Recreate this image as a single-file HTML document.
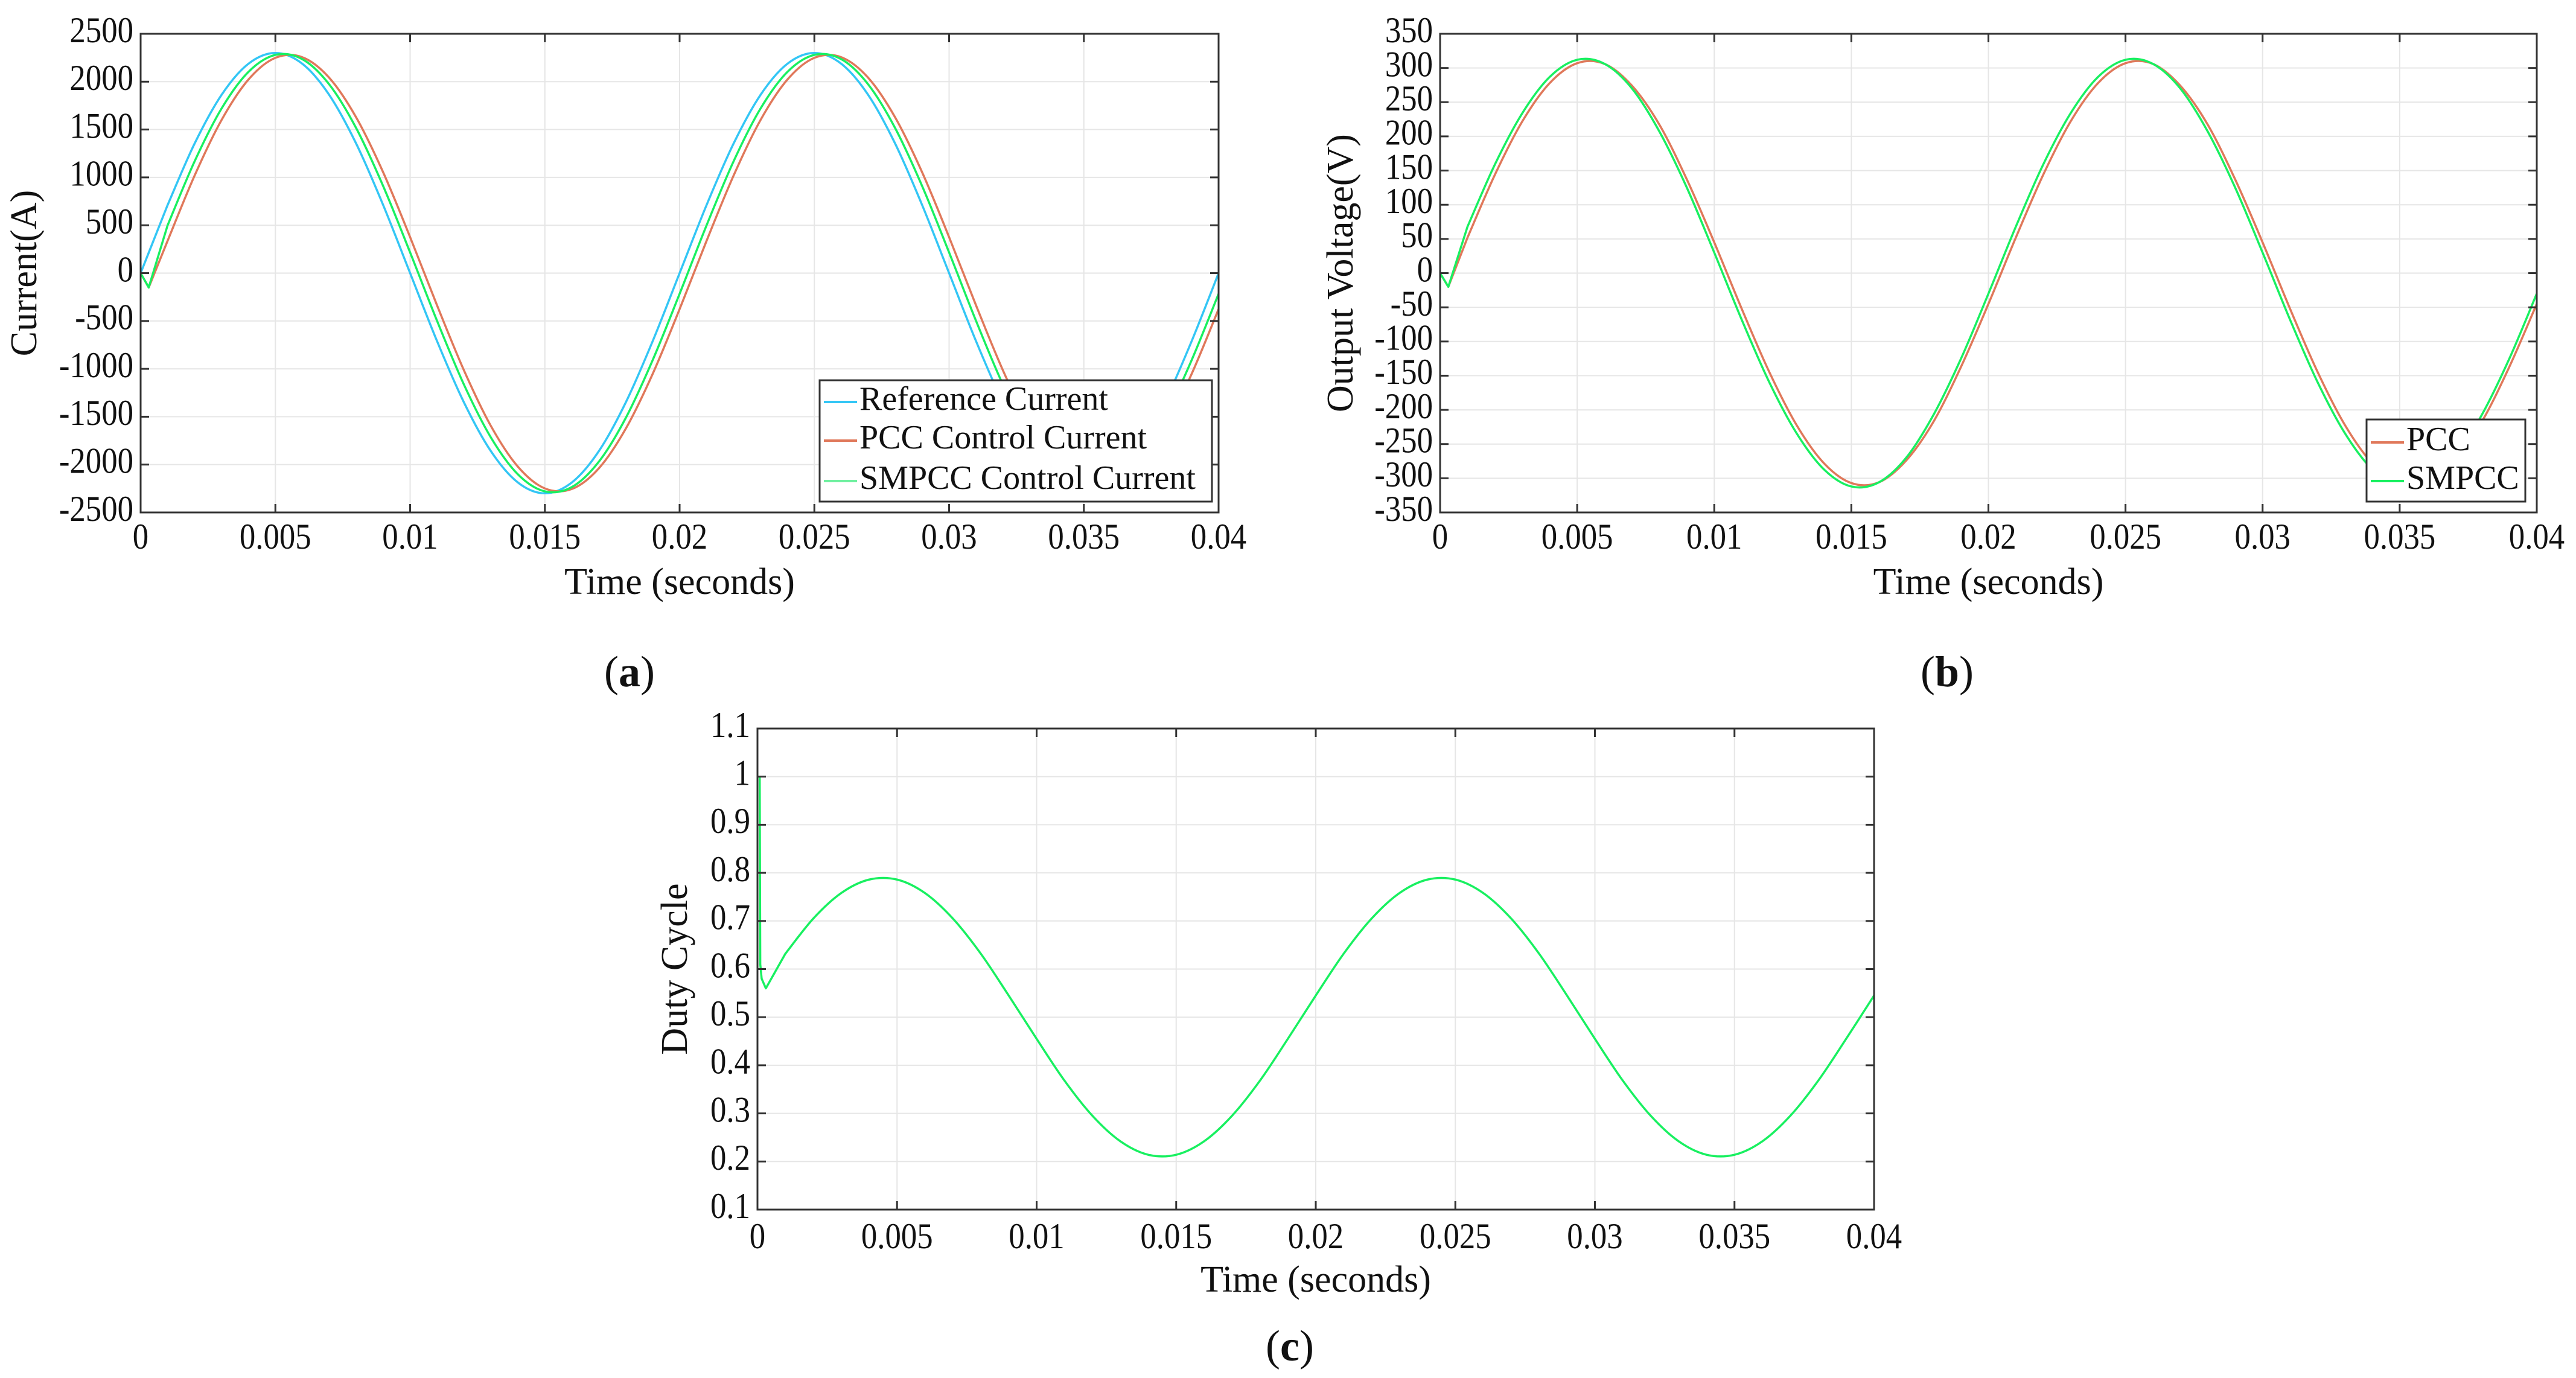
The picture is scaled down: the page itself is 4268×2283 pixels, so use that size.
<!DOCTYPE html>
<html><head><meta charset="utf-8"><style>
html,body{margin:0;padding:0;background:#fff;}
svg{display:block;}
text{font-family:"Liberation Serif",serif;fill:#111;}
</style></head><body>
<svg id="fig" width="4268" height="2283" viewBox="0 0 4268 2283" xmlns="http://www.w3.org/2000/svg"></svg>
<script>
// ---- shared x data ----
const tPts = [0.001,0.002,0.003,0.004,0.005,0.006,0.007,0.008,0.009,0.010,0.011,0.012,0.013,0.014,0.015,0.016,0.017,0.018,0.019,0.020,0.021,0.022,0.023,0.024,0.025,0.026,0.027,0.028,0.029,0.030,0.031,0.032,0.033,0.034,0.035,0.036,0.037,0.038,0.039,0.040];
const xTicks = [0,0.005,0.01,0.015,0.02,0.025,0.03,0.035,0.04];
const xTickLabels = ["0","0.005","0.01","0.015","0.02","0.025","0.03","0.035","0.04"];
// ---- panel (a) current ----
const refStartT = [0]; const refStartV = [0];
const refCurrent = [711,1352,1861,2187,2300,2187,1861,1352,711,0,-711,-1352,-1861,-2187,-2300,-2187,-1861,-1352,-711,0,711,1352,1861,2187,2300,2187,1861,1352,711,0,-711,-1352,-1861,-2187,-2300,-2187,-1861,-1352,-711,0];
const pccStartT = [0,0.0003]; const pccStartV = [0,-150];
const pccCurrent = [337,1017,1598,2022,2249,2255,2040,1626,1053,376,-337,-1017,-1598,-2022,-2249,-2255,-2040,-1626,-1053,-376,337,1017,1598,2022,2249,2255,2040,1626,1053,376,-337,-1017,-1598,-2022,-2249,-2255,-2040,-1626,-1053,-376];
const smStartT = [0,0.0003]; const smStartV = [0,-150];
const smpccCurrent = [499,1166,1718,2102,2280,2235,1971,1514,909,216,-499,-1166,-1718,-2102,-2280,-2235,-1971,-1514,-909,-216,499,1166,1718,2102,2280,2235,1971,1514,909,216,-499,-1166,-1718,-2102,-2280,-2235,-1971,-1514,-909,-216];
const aYTicks = [-2500,-2000,-1500,-1000,-500,0,500,1000,1500,2000,2500];
// ---- panel (b) voltage ----
const vStartT = [0,0.0003]; const vStartV = [0,-20];
const pccVoltage = [52,144,222,278,307,306,274,217,137,45,-52,-144,-222,-278,-307,-306,-274,-217,-137,-45,52,144,222,278,307,306,274,217,137,45,-52,-144,-222,-278,-307,-306,-274,-217,-137,-45];
const smpccVoltage = [68,159,234,287,312,306,270,207,125,30,-68,-159,-234,-287,-312,-306,-270,-207,-125,-30,68,159,234,287,312,306,270,207,125,30,-68,-159,-234,-287,-312,-306,-270,-207,-125,-30];
const bYTicks = [-350,-300,-250,-200,-150,-100,-50,0,50,100,150,200,250,300,350];
// ---- panel (c) duty ----
const dStartT = [0.00008,0.0001,0.00015,0.0003]; const dStartV = [1.0,0.61,0.58,0.56];
const dutyCycle = [0.632,0.705,0.758,0.786,0.786,0.758,0.705,0.632,0.545,0.455,0.368,0.295,0.242,0.214,0.214,0.242,0.295,0.368,0.455,0.545,0.632,0.705,0.758,0.786,0.786,0.758,0.705,0.632,0.545,0.455,0.368,0.295,0.242,0.214,0.214,0.242,0.295,0.368,0.455,0.545];
const cYTicks = [0.1,0.2,0.3,0.4,0.5,0.6,0.7,0.8,0.9,1,1.1];

const NS="http://www.w3.org/2000/svg";
const fig=document.getElementById('fig');
function mk(tag,attrs,parent){const e=document.createElementNS(NS,tag);for(const k in attrs)e.setAttribute(k,attrs[k]);(parent||fig).appendChild(e);return e;}
function fmtY(v){return String(Math.round(v*10)/10);}

function panel(name,box,ymin,ymax,yTicks,ylabel,ylabelX,tickY,titleY,series,legend){
  const g=mk('g',{});
  
  
  const X=t=>box.l+(t-0)/(0.04-0)*(box.r-box.l);
  const Y=v=>box.b-(v-ymin)/(ymax-ymin)*(box.b-box.t);
  xTicks.forEach(t=>{const l=mk('line',{x1:X(t),x2:X(t),y1:box.t,y2:box.b,stroke:'#e6e6e6','stroke-width':2},g);});
  yTicks.forEach(v=>{const l=mk('line',{x1:box.l,x2:box.r,y1:Y(v),y2:Y(v),stroke:'#e6e6e6','stroke-width':2},g);});
  series.forEach(s=>{
    const ts=s.t0.concat(tPts), vs=s.v0.concat(s.v);
    const P=ts.map((t,i)=>[X(t),Y(vs[i])]);
    let d='M'+P[0][0]+','+P[0][1];
    const ns=s.t0.length;
    for(let i=0;i<P.length-1;i++){
      if(i<ns){d+=' L'+P[i+1][0]+','+P[i+1][1];continue;}
      const p0=P[Math.max(ns,i-1)],p1=P[i],p2=P[i+1],p3=P[Math.min(P.length-1,i+2)];
      const c1=[p1[0]+(p2[0]-p0[0])/6,p1[1]+(p2[1]-p0[1])/6];
      const c2=[p2[0]-(p3[0]-p1[0])/6,p2[1]-(p3[1]-p1[1])/6];
      d+=' C'+c1[0]+','+c1[1]+' '+c2[0]+','+c2[1]+' '+p2[0]+','+p2[1];
    }
    const p=mk('path',{d:d,fill:'none',stroke:s.color,'stroke-width':3.5,'stroke-linejoin':'round'},g);
    
    
  });
  const fr=mk('rect',{x:box.l,y:box.t,width:box.r-box.l,height:box.b-box.t,fill:'none',stroke:'#333','stroke-width':3},g);
  
  
  xTicks.forEach((t,i)=>{
    mk('line',{x1:X(t),x2:X(t),y1:box.b,y2:box.b-14,stroke:'#333','stroke-width':3},g);
    mk('line',{x1:X(t),x2:X(t),y1:box.t,y2:box.t+14,stroke:'#333','stroke-width':3},g);
    const tx=mk('text',{x:X(t),y:tickY,'font-size':60,'text-anchor':'middle','dominant-baseline':'middle',transform:'translate('+X(t)+' 0) scale(0.88 1) translate('+(-X(t))+' 0)'},g);
    tx.textContent=xTickLabels[i];
    
    
  });
  yTicks.forEach(v=>{
    mk('line',{x1:box.l,x2:box.l+14,y1:Y(v),y2:Y(v),stroke:'#333','stroke-width':3},g);
    mk('line',{x1:box.r,x2:box.r-14,y1:Y(v),y2:Y(v),stroke:'#333','stroke-width':3},g);
    const ax=box.l-12;
    const tx=mk('text',{x:ax,y:Y(v),'font-size':60,'text-anchor':'end','dominant-baseline':'middle',transform:'translate('+ax+' 0) scale(0.88 1) translate('+(-ax)+' 0)'},g);
    tx.textContent=fmtY(v);
    
    
  });
  const xt=mk('text',{x:(box.l+box.r)/2,y:titleY,'font-size':62,'text-anchor':'middle','dominant-baseline':'middle'},g);
  xt.textContent='Time (seconds)';
  
  
  const cy=(box.t+box.b)/2;
  const yt=mk('text',{x:ylabelX,y:cy,'font-size':62,'text-anchor':'middle','dominant-baseline':'middle',transform:'rotate(-90 '+ylabelX+' '+cy+')'},g);
  yt.textContent=ylabel;
  
  
  if(legend){
    const lg=mk('g',{},g);
    
    
    mk('rect',{x:legend.x,y:legend.y,width:legend.w,height:legend.h,fill:'#fff',stroke:'#333','stroke-width':3},lg);
    legend.items.forEach((it,i)=>{
      const yy=legend.y+legend.rowY[i];
      mk('line',{x1:legend.x+7,x2:legend.x+62,y1:yy,y2:yy,stroke:it.color,'stroke-width':4},lg);
      const tx=mk('text',{x:legend.x+66,y:yy,'font-size':legend.fs,'dominant-baseline':'middle'},lg);
      tx.textContent=it.label;
      
      
    });
  }
}

const CY='#33c6f5', OR='#e0785a', GR='#18f060';
panel('panel-a-current',{l:233,r:2019,t:56,b:849},-2500,2500,aYTicks,'Current(A)',46,895,970,
 [{name:'reference-current-line',color:CY,t0:refStartT,v0:refStartV,v:refCurrent},
  {name:'pcc-current-line',color:OR,t0:pccStartT,v0:pccStartV,v:pccCurrent},
  {name:'smpcc-current-line',color:GR,t0:smStartT,v0:smStartV,v:smpccCurrent}],
 {x:1358,y:630,w:650,h:201,fs:56,rowY:[36,100,167],items:[{label:'Reference Current',color:CY},{label:'PCC Control Current',color:OR},{label:'SMPCC Control Current',color:'#70f0a0'}]});
panel('panel-b-voltage',{l:2386,r:4203,t:56,b:849},-350,350,bYTicks,'Output Voltage(V)',2227,895,970,
 [{name:'pcc-voltage-line',color:OR,t0:vStartT,v0:vStartV,v:pccVoltage},
  {name:'smpcc-voltage-line',color:GR,t0:vStartT,v0:vStartV,v:smpccVoltage}],
 {x:3921,y:695,w:263,h:136,fs:56,rowY:[38,102],items:[{label:'PCC',color:OR},{label:'SMPCC',color:GR}]});
panel('panel-c-duty-cycle',{l:1255,r:3105,t:1207,b:2004},0.1,1.1,cYTicks,'Duty Cycle',1124,2054,2126,
 [{name:'duty-cycle-line',color:GR,t0:dStartT,v0:dStartV,v:dutyCycle}],null);

[['(a)',1043,1120],['(b)',3226,1120],['(c)',2137,2237]].forEach(c=>{
  const t=mk('text',{x:c[1],y:c[2],'font-size':72,'text-anchor':'middle','dominant-baseline':'middle'});
  t.innerHTML='('+'<tspan font-weight="bold">'+c[0][1]+'</tspan>)';
  
  
});
</script>
</body></html>
